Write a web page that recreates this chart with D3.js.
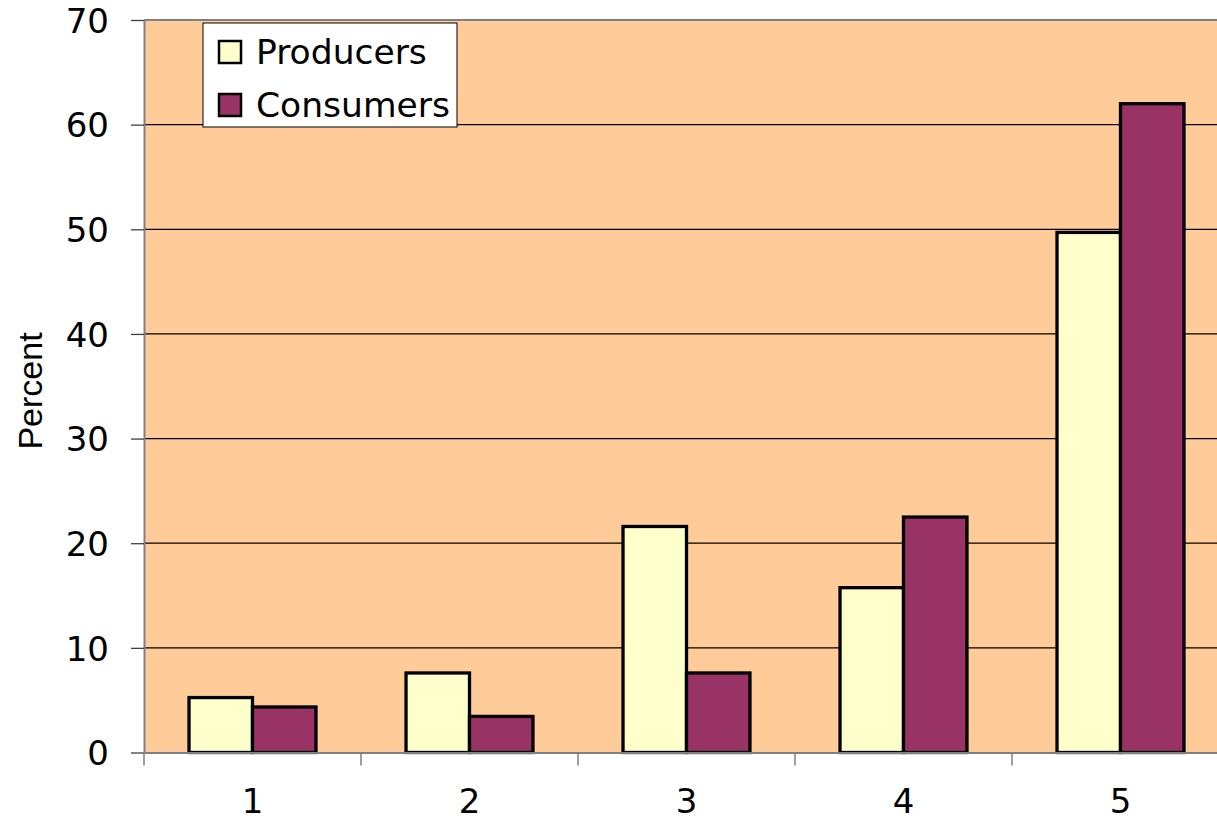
<!DOCTYPE html>
<html><head><meta charset="utf-8">
<script src="https://cdn.jsdelivr.net/npm/d3@7"></script>
<style>body{margin:0;background:#fff;overflow:hidden}svg{display:block}</style>
</head><body>
<svg id="c" width="1217" height="823"></svg>
<script>
const categories = ["1","2","3","4","5"];
const seriesNames = ["Producers","Consumers"];
const producers = [5.25, 7.6, 21.6, 15.75, 49.7];
const consumers = [4.35, 3.45, 7.6, 22.5, 62.0];
const yTicks = [0,10,20,30,40,50,60,70];
const colors = ["#FFFFCC","#993366"];

const svg = d3.select("#c");
const L = 144, T = 20, B = 752.5, step = 217;
const R = L + step*categories.length;
const font = "'DejaVu Sans', Verdana, sans-serif";

const x = d3.scaleBand().domain(categories).range([L, R]).paddingInner(0.415).paddingOuter(0.2075);
const xs = d3.scaleBand().domain(seriesNames).range([0, x.bandwidth()]);
const y = d3.scaleLinear().domain([0,70]).range([B, T]);

svg.append("rect").attr("x", L).attr("y", T).attr("width", R-L).attr("height", B-T).attr("fill", "#FFCC99");

// gridlines
svg.append("g").selectAll("line").data(yTicks.filter(d=>d>0 && d<70)).join("line")
  .attr("x1", L).attr("x2", R).attr("y1", d=>y(d)).attr("y2", d=>y(d))
  .attr("stroke", "#000").attr("stroke-width", 1.3);
// top border
svg.append("line").attr("x1", L).attr("x2", R).attr("y1", T).attr("y2", T).attr("stroke", "#808080").attr("stroke-width", 2);

// bars
const data = categories.map((c,i)=>({c, vals:[producers[i], consumers[i]]}));
const g = svg.append("g").selectAll("g").data(data).join("g").attr("transform", d=>`translate(${x(d.c)},0)`);
g.selectAll("rect").data(d=>d.vals.map((v,j)=>({v, s:seriesNames[j], j}))).join("rect")
  .attr("x", d=>xs(d.s)).attr("width", xs.bandwidth())
  .attr("y", d=>y(d.v)).attr("height", d=>B - y(d.v))
  .attr("fill", d=>colors[d.j]).attr("stroke", "#000").attr("stroke-width", 3.3);

// y axis
const ya = svg.append("g").attr("transform", `translate(${L},0)`)
  .call(d3.axisLeft(y).tickValues(yTicks).tickSize(13).tickPadding(22).tickSizeOuter(0));
ya.select(".domain").attr("stroke", "#808080").attr("stroke-width", 2);
ya.selectAll(".tick line").attr("stroke", "#404040").attr("stroke-width", 1.3);
ya.selectAll("text").attr("font-family", font).attr("font-size", 34).attr("fill", "#000").attr("dy", "0.36em");

// x axis
const xb = d3.scaleBand().domain(categories).range([L, R]);
const xa = svg.append("g").attr("transform", `translate(0,${B})`)
  .call(d3.axisBottom(xb).tickSize(0).tickPadding(36).tickSizeOuter(0));
xa.select(".domain").attr("stroke", "#808080").attr("stroke-width", 2);
xa.selectAll("text").attr("font-family", font).attr("font-size", 34).attr("fill", "#000");
// category boundary ticks
svg.append("g").selectAll("line").data(categories).join("line")
  .attr("x1", d=>xb(d)).attr("x2", d=>xb(d)).attr("y1", B).attr("y2", B+13)
  .attr("stroke", "#808080").attr("stroke-width", 1.5);

// y title
svg.append("text").attr("transform", "translate(42,391) rotate(-90)")
  .attr("text-anchor", "middle").attr("font-family", "'Liberation Sans', Arial, sans-serif")
  .attr("font-size", 34).text("Percent");

// legend
const lg = svg.append("g");
lg.append("rect").attr("x", 203).attr("y", 23).attr("width", 254).attr("height", 104)
  .attr("fill", "#fff").attr("stroke", "#000").attr("stroke-width", 1);
seriesNames.forEach((s,i)=>{
  const cy = 52 + i*53;
  lg.append("rect").attr("x", 219).attr("y", cy-11).attr("width", 22).attr("height", 22)
    .attr("fill", colors[i]).attr("stroke", "#000").attr("stroke-width", 2.5);
  lg.append("text").attr("x", 256).attr("y", cy).attr("dy", "0.36em")
    .attr("font-family", font).attr("font-size", 34.5).text(s);
});
</script>
</body></html>
